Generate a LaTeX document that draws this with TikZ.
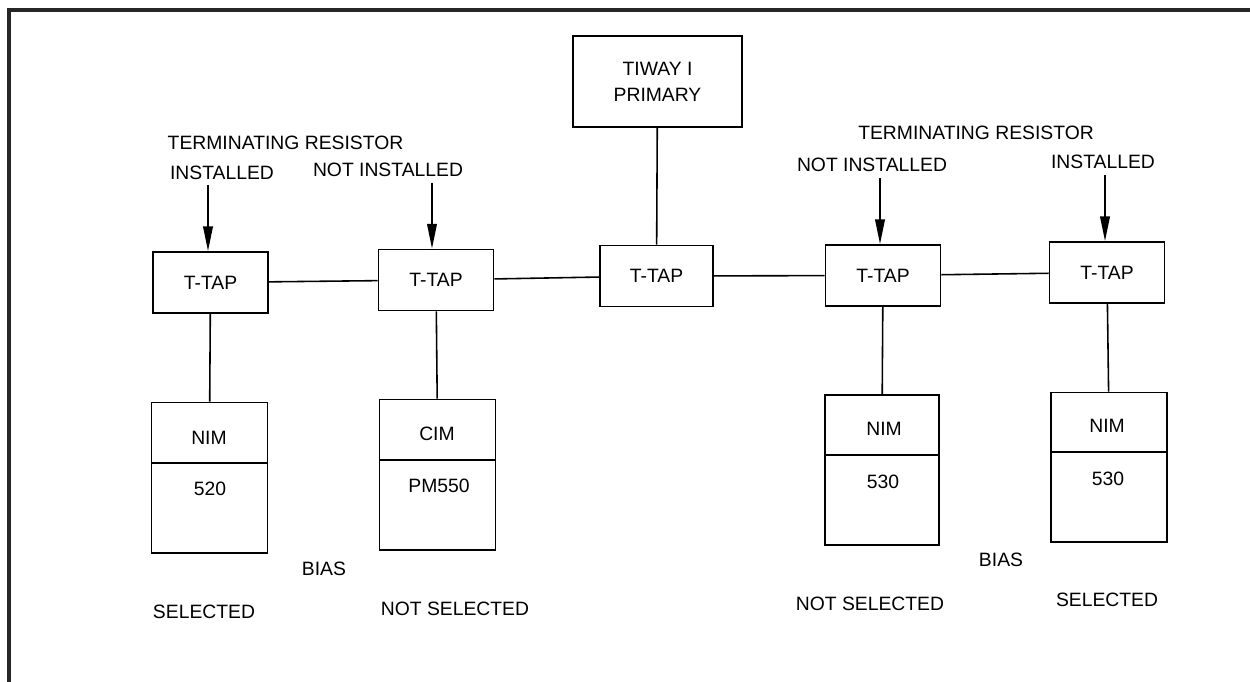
\documentclass[tikz,border=0pt]{standalone}
\usepackage{fontspec}
\setmainfont{Liberation Sans}
\usetikzlibrary{arrows.meta}
\begin{document}
\begin{tikzpicture}[x=0.02cm,y=-0.02cm,
  every node/.style={font=\fontsize{11}{14.7}\selectfont, inner sep=0pt},
  lbl/.style={text depth=0pt},
  tapbox/.style={draw, line width=1.1pt, minimum width=2.3cm, minimum height=1.22cm, text depth=0pt},
  primbox/.style={draw, line width=1.1pt, minimum width=3.38cm, minimum height=1.82cm, align=center},
  modtop/.style={draw, line width=1.1pt, minimum width=2.32cm, minimum height=1.2cm},
  modbot/.style={draw, line width=1.1pt, minimum width=2.32cm, minimum height=1.8cm},
  conn/.style={line width=0.9pt},
  arr/.style={line width=0.9pt, -{Triangle[length=14pt, width=5.5pt]}},
  frame/.style={line width=2.2pt, color=black!85}
]
\useasboundingbox (0,0) rectangle (1250,682);
% frame
\draw[frame] (1250,10) -- (9,10) -- (9,682);

% primary
\node[primbox] (tiway) at (657.5,81.5) {TIWAY I\\PRIMARY};

% T-TAPs
\node[tapbox] (ttap1) at (210.5,282.5) {T-TAP};
\node[tapbox] (ttap2) at (436,280) {T-TAP};
\node[tapbox, minimum width=2.26cm] (ttap3) at (656.5,276) {T-TAP};
\node[tapbox] (ttap4) at (883,275.5) {T-TAP};
\node[tapbox] (ttap5) at (1107,272.5) {T-TAP};

% modules
\node[modtop] (m1top) at (209.5,432.5) {};
\node[modbot] (m1bot) at (209.5,508) {};
\node[modtop] (m2top) at (437.5,429.5) {};
\node[modbot] (m2bot) at (437.5,505) {};
\node[modtop, minimum width=2.28cm] (m3top) at (882,425) {};
\node[modbot, minimum width=2.28cm] (m3bot) at (882,500) {};
\node[modtop] (m4top) at (1109,422.5) {};
\node[modbot] (m4bot) at (1109,497) {};

\node[lbl] (m1a) at (209,438) {NIM};
\node[lbl] (m1b) at (210,489) {520};
\node[lbl] (m2a) at (437,434) {CIM};
\node[lbl] (m2b) at (439,486) {PM550};
\node[lbl] (m3a) at (884,429) {NIM};
\node[lbl] (m3b) at (883,482) {530};
\node[lbl] (m4a) at (1107,426) {NIM};
\node[lbl] (m4b) at (1108,479) {530};

% labels
\node[lbl] (tr1) at (285.5,143) {TERMINATING RESISTOR};
\node[lbl] (in1) at (222,173) {INSTALLED};
\node[lbl] (ni2) at (388,170) {NOT INSTALLED};
\node[lbl] (tr2) at (976,133) {TERMINATING RESISTOR};
\node[lbl] (ni4) at (872,165) {NOT INSTALLED};
\node[lbl] (in5) at (1103,162) {INSTALLED};
\node[lbl] (bias1) at (324,569) {BIAS};
\node[lbl] (bias2) at (1001,560) {BIAS};
\node[lbl] (sel1) at (204,612) {SELECTED};
\node[lbl] (nsel2) at (455,609) {NOT SELECTED};
\node[lbl] (nsel4) at (870,604) {NOT SELECTED};
\node[lbl] (sel5) at (1107,600) {SELECTED};

% arrow starts
\coordinate (a1) at (208,185);
\coordinate (a2) at (432,183);
\coordinate (a4) at (880,178);
\coordinate (a5) at (1105,175);

% arrows
\draw[arr] (a1) -- (a1 |- ttap1.north);
\draw[arr] (a2) -- (a2 |- ttap2.north);
\draw[arr] (a4) -- (a4 |- ttap4.north);
\draw[arr] (a5) -- (a5 |- ttap5.north);

% bus
\draw[conn] (ttap1) -- (ttap2);
\draw[conn] (ttap2) -- (ttap3);
\draw[conn] (ttap3) -- (ttap4);
\draw[conn] (ttap4) -- (ttap5);
\draw[conn] (tiway) -- (ttap3);

% drops
\draw[conn] (ttap1) -- (m1top);
\draw[conn] (ttap2) -- (m2top);
\draw[conn] (ttap4) -- (m3top);
\draw[conn] (ttap5) -- (m4top);
\end{tikzpicture}
\end{document}
